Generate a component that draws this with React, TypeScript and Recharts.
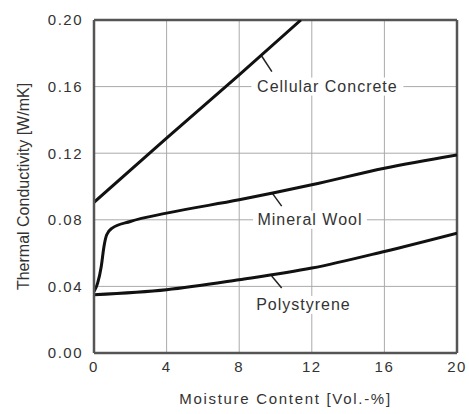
import React from "react";
import {
  LineChart,
  Line,
  XAxis,
  YAxis,
  CartesianGrid,
  ReferenceLine,
  ReferenceDot,
  Label,
} from "recharts";

// moisture content [Vol.-%] vs thermal conductivity [W/mK]
const cellularConcrete = [
  { x: 0, y: 0.0905 },
  { x: 4, y: 0.129 },
  { x: 8, y: 0.167 },
  { x: 11.4, y: 0.2 },
];

const mineralWool = [
  { x: 0, y: 0.037 },
  { x: 0.2, y: 0.042 },
  { x: 0.4, y: 0.052 },
  { x: 0.55, y: 0.064 },
  { x: 0.7, y: 0.071 },
  { x: 1.0, y: 0.075 },
  { x: 2, y: 0.079 },
  { x: 4, y: 0.084 },
  { x: 8, y: 0.092 },
  { x: 12, y: 0.101 },
  { x: 16, y: 0.111 },
  { x: 20, y: 0.119 },
];

const polystyrene = [
  { x: 0, y: 0.035 },
  { x: 4, y: 0.038 },
  { x: 8, y: 0.044 },
  { x: 12, y: 0.051 },
  { x: 16, y: 0.061 },
  { x: 20, y: 0.072 },
];

const xTicks = [0, 4, 8, 12, 16, 20];
const yTicks = [0, 0.04, 0.08, 0.12, 0.16, 0.2];

// curve annotations: label position and leader line
const annotations = [
  { name: "Cellular Concrete", at: { x: 12.86, y: 0.16 }, lead: [{ x: 9.2, y: 0.179 }, { x: 9.8, y: 0.169 }], pad: 152 },
  { name: "Mineral Wool", at: { x: 11.9, y: 0.08 }, lead: [{ x: 9.79, y: 0.0965 }, { x: 10.34, y: 0.0882 }], pad: 114 },
  { name: "Polystyrene", at: { x: 11.54, y: 0.0289 }, lead: [{ x: 9.79, y: 0.0462 }, { x: 10.34, y: 0.039 }], pad: 104 },
];

const textColor = "#333";
const frame = "#555";

const tagShape = (text: string, w: number) => (props: any) => {
  const { cx, cy } = props;
  return (
    <g>
      <rect x={cx - w / 2} y={cy - 9} width={w} height={18} fill="#fff" />
      <text
        x={cx}
        y={cy}
        textAnchor="middle"
        dominantBaseline="central"
        fontSize={16}
        letterSpacing={1}
        fill={textColor}
      >
        {text}
      </text>
    </g>
  );
};

export default function App() {
  return (
    <div
      style={{
        position: "fixed",
        left: 0,
        top: 0,
        width: 469,
        height: 414,
        background: "#fff",
        fontFamily: "'Liberation Sans', Arial, sans-serif",
      }}
    >
      <LineChart width={469} height={414} margin={{ top: 20, right: 12, bottom: 0, left: 0 }}>
        <CartesianGrid stroke="#aaa" strokeWidth={1} />
        <XAxis
          type="number"
          dataKey="x"
          domain={[0, 20]}
          ticks={xTicks}
          height={61}
          tickLine={false}
          tickSize={0}
          tickMargin={8}
          axisLine={{ stroke: frame, strokeWidth: 2.5 }}
          tick={{ fill: textColor, fontSize: 15, letterSpacing: 1.5 }}
          allowDataOverflow
        >
          <Label
            content={(p: any) => {
              const vb = p.viewBox;
              return (
                <text
                  x={vb.x + vb.width / 2 + 10}
                  y={vb.y + 51}
                  textAnchor="middle"
                  fontSize={15}
                  letterSpacing={1.7}
                  fill={textColor}
                >
                  Moisture Content [Vol.-%]
                </text>
              );
            }}
          />
        </XAxis>
        <YAxis
          type="number"
          domain={[0, 0.2]}
          ticks={yTicks}
          width={94}
          tickLine={false}
          tickSize={0}
          tickMargin={11}
          tickFormatter={(v: number) => v.toFixed(2)}
          axisLine={{ stroke: frame, strokeWidth: 2.5 }}
          tick={{ fill: textColor, fontSize: 15, letterSpacing: 1.5 }}
          allowDataOverflow
        >
          <Label
            content={(p: any) => {
              const vb = p.viewBox;
              const cx = vb.x + 23;
              const cy = vb.y + vb.height / 2;
              return (
                <text
                  x={cx}
                  y={cy}
                  transform={`rotate(-90, ${cx}, ${cy})`}
                  textAnchor="middle"
                  dominantBaseline="central"
                  fontSize={16}
                  fill={textColor}
                >
                  Thermal Conductivity [W/mK]
                </text>
              );
            }}
          />
        </YAxis>
        <ReferenceLine y={0.2} stroke={frame} strokeWidth={2.5} />
        <ReferenceLine x={20} stroke={frame} strokeWidth={2.5} />
        {annotations.map((a) => (
          <ReferenceLine key={a.name + "-lead"} segment={a.lead} stroke="#222" strokeWidth={1.5} />
        ))}
        {annotations.map((a) => (
          <ReferenceDot key={a.name} x={a.at.x} y={a.at.y} r={0} shape={tagShape(a.name, a.pad)} />
        ))}
        <Line data={cellularConcrete} dataKey="y" type="linear" stroke="#111" strokeWidth={3} dot={false} isAnimationActive={false} />
        <Line data={mineralWool} dataKey="y" type="monotone" stroke="#111" strokeWidth={3} dot={false} isAnimationActive={false} />
        <Line data={polystyrene} dataKey="y" type="monotone" stroke="#111" strokeWidth={3} dot={false} isAnimationActive={false} />
      </LineChart>
    </div>
  );
}
